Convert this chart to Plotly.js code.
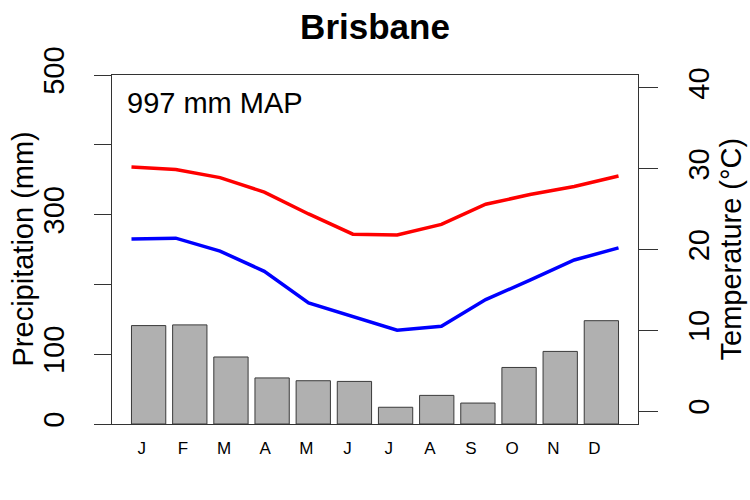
<!DOCTYPE html>
<html>
<head>
<meta charset="utf-8">
<script src="https://cdn.plot.ly/plotly-3.0.1.min.js"></script>
<style>html,body{margin:0;padding:0;background:#fff;}#chart{width:750px;height:500px;}</style>
</head>
<body>
<div id="chart"></div>
<script>
// ---- data ----
const months = ["J","F","M","A","M","J","J","A","S","O","N","D"];
const precipitation = [141, 142, 96, 66, 62, 61, 24, 41, 30, 81, 104, 148]; // mm
const tempMax = [30.2, 29.9, 28.9, 27.1, 24.4, 21.9, 21.8, 23.1, 25.6, 26.8, 27.8, 29.1]; // °C
const tempMin = [21.3, 21.4, 19.8, 17.3, 13.4, 11.7, 10.0, 10.5, 13.8, 16.2, 18.7, 20.2]; // °C
const precipTicks = [0, 100, 200, 300, 400, 500];
const precipTickText = ["0", "100", "", "300", "", "500"];
const tempTicks = [0, 10, 20, 30, 40];
const stationName = "Brisbane";
const mapText = "997 mm MAP";

// ---- layout helpers (R barplot style: width 1, space 0.2) ----
const n = months.length;
const barX = months.map((m, i) => 1.2 * (i + 1) - 0.5);
const labelX = months.map((m, i) => 1.2 * (i + 1) - 0.7);
const lineX = months.map((m, i) => 0.2 + i * 14.2 / (n - 1));
const font = "Liberation Sans, Arial, Helvetica, sans-serif";

const traces = [
  {
    type: "bar", x: barX, y: precipitation, width: 1,
    marker: {color: "#B0B0B0", line: {color: "#3a3a3a", width: 1}},
    yaxis: "y", hoverinfo: "skip"
  },
  {
    type: "scatter", mode: "lines", x: lineX, y: tempMax, yaxis: "y2",
    line: {color: "#FF0000", width: 3.5}, hoverinfo: "skip"
  },
  {
    type: "scatter", mode: "lines", x: lineX, y: tempMin, yaxis: "y2",
    line: {color: "#0000FF", width: 3.5}, hoverinfo: "skip"
  }
];

const layout = {
  width: 750, height: 500,
  margin: {l: 112, r: 112, t: 75, b: 76, pad: 0},
  paper_bgcolor: "#fff", plot_bgcolor: "#fff",
  showlegend: false,
  font: {family: font, color: "#000"},
  title: {text: "<b>" + stationName + "</b>", x: 0.5, xref: "paper", xanchor: "center",
          y: 1 - 27 / 500, yref: "container", yanchor: "middle",
          font: {family: font, size: 35, color: "#000"}},
  xaxis: {
    range: [-0.368, 14.968], showgrid: false, zeroline: false,
    tickmode: "array", tickvals: labelX, ticktext: months, ticks: "",
    tickfont: {size: 17, family: font}, ticklabelstandoff: 9,
    showline: true, linecolor: "#333", linewidth: 1, mirror: true
  },
  yaxis: {
    range: [0, 500], showgrid: false, zeroline: false,
    tickmode: "array", tickvals: precipTicks, ticktext: precipTickText,
    ticks: "outside", ticklen: 17, tickcolor: "#333", tickwidth: 1,
    tickangle: -90, tickfont: {size: 29, family: font}, ticklabelstandoff: 18,
    showline: true, linecolor: "#333", linewidth: 1, mirror: true
  },
  yaxis2: {
    overlaying: "y", side: "right", range: [-1.6, 41.6],
    showgrid: false, zeroline: false,
    tickmode: "array", tickvals: tempTicks,
    ticks: "outside", ticklen: 19, tickcolor: "#333", tickwidth: 1,
    tickangle: -90, tickfont: {size: 29, family: font}, ticklabelstandoff: 16,
    showline: false
  },
  annotations: [
    {text: "Precipitation (mm)", xref: "paper", yref: "paper", x: (22 - 112) / 526, y: 0.5,
     xanchor: "center", yanchor: "middle", textangle: -90, showarrow: false,
     font: {family: font, size: 29, color: "#000"}},
    {text: "Temperature (°C)", xref: "paper", yref: "paper", x: (730 - 112) / 526, y: 0.5,
     xanchor: "center", yanchor: "middle", textangle: -90, showarrow: false,
     font: {family: font, size: 29, color: "#000"}},
    {text: mapText, xref: "paper", yref: "paper", x: (125 - 112) / 526, y: 1 - (103 - 75) / 349,
     xanchor: "left", yanchor: "middle", showarrow: false,
     font: {family: font, size: 29, color: "#000"}}
  ]
};

Plotly.newPlot("chart", traces, layout, {staticPlot: true, displayModeBar: false});
</script>
</body>
</html>
